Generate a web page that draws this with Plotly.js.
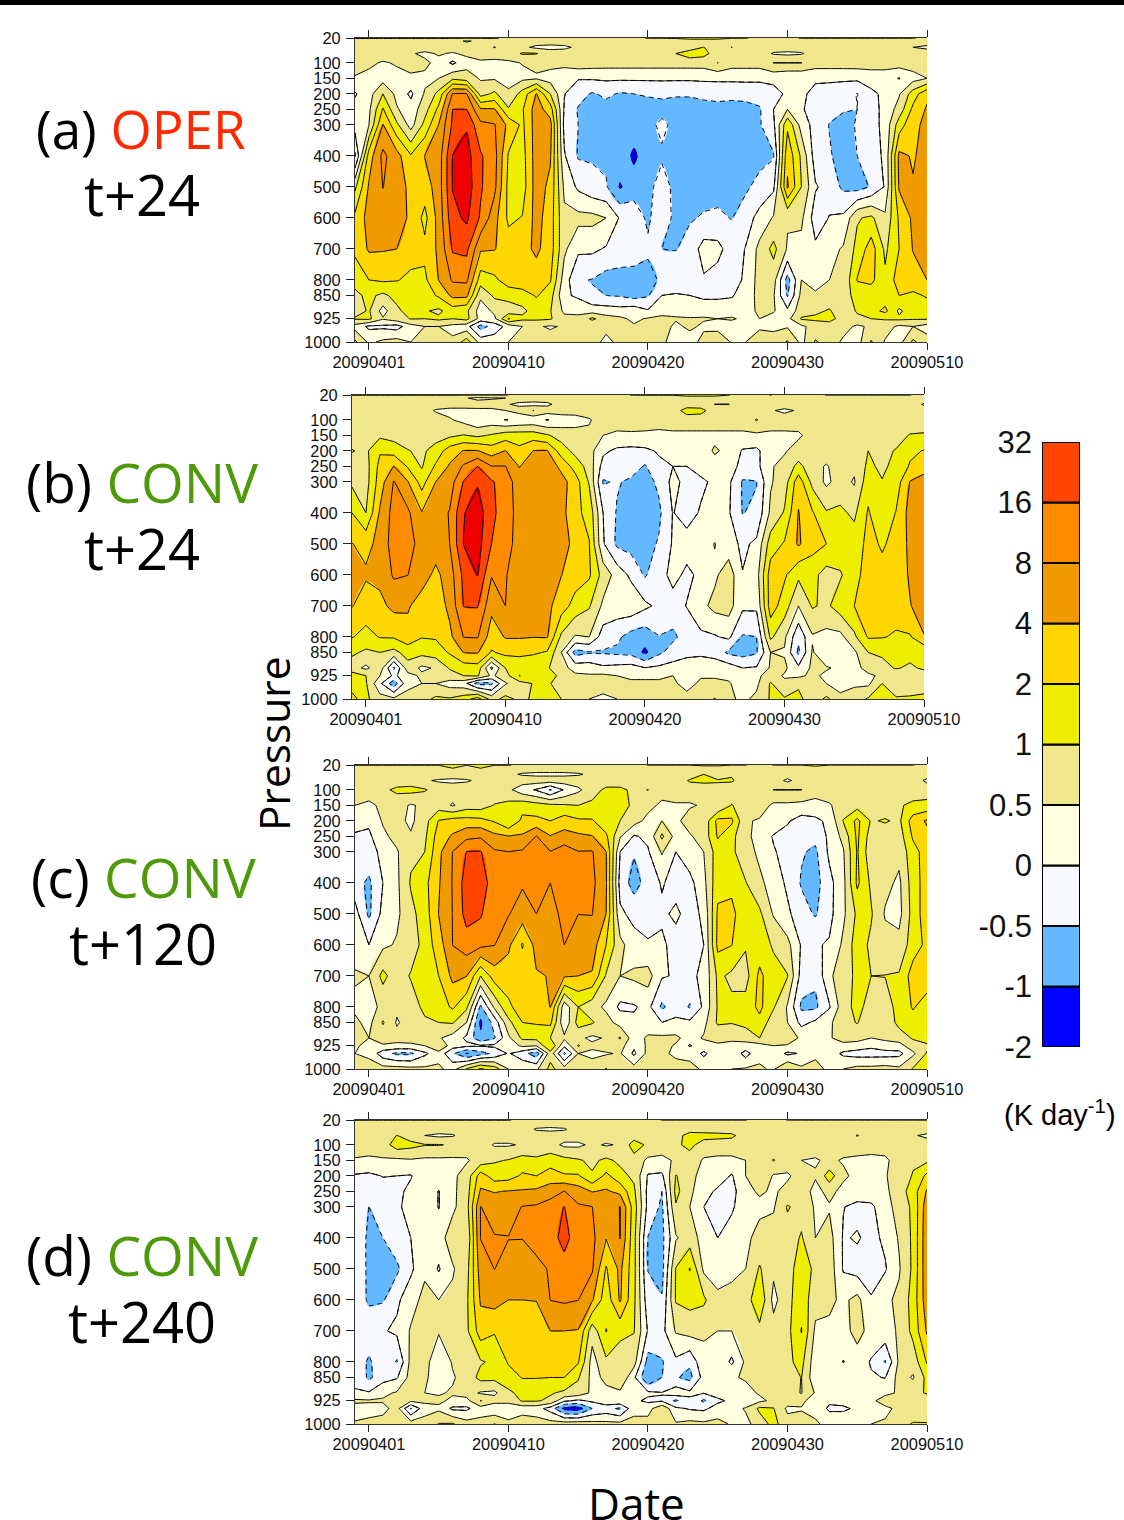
<!DOCTYPE html>
<html><head><meta charset="utf-8">
<script src="https://cdn.plot.ly/plotly-3.0.1.min.js"></script>
<style>html,body{margin:0;padding:0;background:#fff}</style></head>
<body><div id="chart" style="width:1124px;height:1520px"></div>
<script>
const days=[0,1,2,3,4,5,6,7,8,9,10,11,12,13,14,15,16,17,18,19,20,21,22,23,24,25,26,27,28,29,30,31,32,33,34,35,36,37,38,39,40,41];
const pressure=[20,30,50,70,100,150,200,250,300,400,500,600,700,800,850,900,925,950,1000];
const pressureTicks=[20,100,150,200,250,300,400,500,600,700,800,850,925,1000];
const dateTickPos=[1,11,21,31,41];
const dateTicks=['20090401','20090410','20090420','20090430','20090510'];
const levels=[-2,-1,-0.5,0,0.5,1,2,4,8,16,32,64];
const bandColors=['#0000ff','#63b8ff','#f8f8ff','#ffffe0','#f0e68c','#eeee00','#ffd700','#ee9a00','#ff8c00','#ff4500','#ee0000'];
const barLabels=['-2','-1','-0.5','0','0.5','1','2','4','8','16','32'];

// (a) OPER t+24, K/day, one row per pressure level
const operT24=[
[1.1,1.1,1.1,1.1,1.1,1.1,1.1,1.1,1.1,1.1,1.1,.9,.9,.9,.9,.9,.9,.9,.9,.9,.9,1.05,1.05,1.1,1.3,1.3,1.3,1.05,1.05,.9,.9,.9,1.05,1.05,1.05,1.05,1.05,1.05,1.05,1.05,1.05,.9],
[.75,.75,.75,.75,.75,.75,.75,.65,.45,.6,.75,.75,.75,.75,.75,.75,.75,.75,.75,.75,.75,.75,.75,.75,.75,.75,.75,.75,.75,.75,.75,.75,.75,.75,.75,.75,.75,.75,.75,.75,.75,.75],
[.75,.75,.75,.75,.75,.75,.75,.75,.75,.75,.48,.75,.6,.4,.35,.4,.6,.75,.75,.75,.75,.75,.75,.75,.75,1.02,.75,1.02,.75,.75,.75,.75,.75,.75,.75,.75,.75,.75,.75,.75,.5,.4],
[.75,.75,.75,.75,.55,.4,.55,.45,.6,.75,.75,.75,1.1,1.05,.75,.75,.75,.75,.75,.75,.75,.75,.75,1,1.5,1.3,.75,.75,.75,.75,.45,.4,.45,.75,.75,.75,.75,.75,.75,.75,.75,.75],
[.95,.6,.45,.55,.8,.6,.35,-.1,.3,.4,.35,.42,.52,.6,.65,.7,.8,.75,.72,.72,.72,.72,.72,.72,.72,.72,1.02,.72,.72,.72,1.02,1.02,1.02,.75,.75,.75,.75,.75,.75,.75,.75,.75],
[.4,.35,.3,.35,.35,.4,.5,.9,.75,.45,.45,.3,.4,.45,.3,.05,.03,.05,.08,.08,.08,.08,.08,.08,.08,.1,.1,.1,.1,.1,.15,.05,.05,.08,.08,.08,.1,.2,.2,-.02,.3,.5],
[-.05,.3,1,.35,-.1,.55,1.3,8.5,8.5,.8,1.2,.6,1.4,4.2,1,.02,-.3,-.55,-.4,-.55,-.5,-.45,-.4,-.45,-.45,-.4,-.35,-.35,-.3,-.3,-.2,.1,.1,-.15,-.2,-.3,-.52,-.1,.1,.45,1.5,3.5],
[.15,.4,2.2,.55,.2,.8,2.5,16,16,4.5,4.3,1.1,1.9,6,3,-.05,-.55,-.7,-.7,-.7,-.7,-.7,-.7,-.7,-.7,-.65,-.65,-.7,-.7,-.55,0,.5,.05,-.2,-.3,-.45,-.5,-.2,.15,.7,2.5,4.5],
[.2,.5,4.2,1.2,.3,1.3,4.1,19,30,10,8.5,3.5,1.8,6,5.5,-.15,-.5,-.7,-.7,-.7,-.7,-.7,-.35,-.7,-.7,-.7,-.7,-.7,-.7,-.55,-.1,1.8,.3,-.2,-.52,-.7,-.45,-.2,.15,1.5,3.5,5],
[-.6,3,10,5.5,2.2,4.1,6,33,45,18,11,1.9,1.6,6,4.5,.05,-.55,-.55,-.6,-.7,-1.2,-.7,-.6,-.7,-.7,-.7,-.7,-.7,-.7,-.7,-.55,3.5,.9,-.25,-.45,-.7,-.5,-.25,.1,5,3.8,5.5],
[.9,4.5,8.2,5.5,3.6,3,6,34,50,18,10,1.7,1.5,6,3.5,.4,-.1,-.35,-.45,-1.1,-.75,-.7,-.2,-.7,-.7,-.7,-.7,-.7,-.6,-.3,-.1,4.5,1,.05,-.2,-.6,-.7,-.45,.05,4.5,4.3,6],
[2.5,5.5,6,5.5,3.7,1.7,5.5,27,38,15,5.5,1.8,2.1,5.5,3,.6,.65,.65,.5,-.05,-.2,-.6,-.1,-.7,-.55,-.45,-.4,-.52,-.2,.15,.55,.55,.6,-.25,.02,.1,.95,1.2,.6,2.3,4.8,6],
[2.5,4.5,4.3,4,2.8,2.5,4.8,18,20,4.5,4.2,3,3.3,4.8,3,.6,.1,.1,-.05,-.2,-.25,-.4,-.5,-.52,-.3,.2,.15,-.25,.02,.65,1.3,.45,.35,.1,.35,.55,1.3,3,.9,2,4.2,6],
[1.3,2,2.3,2.1,1.8,1.8,4.1,9,9.5,1.5,1.8,3,3.5,3,2.2,.25,-.45,-.52,-.7,-.7,-.7,-.7,-.4,-.2,-.2,-.05,-.2,-.25,.1,.7,.7,-.7,.5,.45,.5,.6,2.1,2.5,1.2,3,3.2,4],
[.9,1.2,.9,1.3,1.6,1.5,2.3,5,5,.6,1.2,1.4,1.5,2.2,1.4,.1,-.1,-.45,-.5,-.55,-.7,-.55,0,.03,0,-.1,-.1,-.05,.25,.65,.55,-.55,.65,.52,.7,.7,1.5,1.4,1.4,2,1.8,2.2],
[.8,1.1,.3,.9,1.4,1.1,.9,1.5,1.2,.25,.6,.7,.9,1.4,1.05,.4,.4,.3,.25,.2,.3,.05,.35,.35,.2,.3,.3,.3,.3,.6,.55,.1,.8,.9,1.1,.7,1.1,1.6,2.5,.9,1.6,1.5],
[1.1,1.2,.55,.8,1.05,1,1.2,1,1.3,.3,.4,2.2,1.2,1.2,1.1,.65,.6,1.2,.7,.6,.4,.55,.6,.55,.55,.55,.5,.55,.4,.5,.3,.35,1.1,1.2,1.4,.75,.9,1,1.1,1.2,1.1,1.1],
[.3,-.1,-.1,-.2,.3,.5,.5,.35,.2,-.7,-.3,.2,.5,.55,.45,.55,.6,.6,.6,.6,.55,.7,.7,.4,.6,.4,.3,.3,.3,.4,.4,.45,.4,.7,.7,.7,.4,.6,.7,.4,.5,.3],
[1.2,.4,.6,.7,.5,.7,.7,.6,1.5,.3,.3,.5,.8,.7,.7,.6,.7,.65,.4,.6,.65,.65,.6,.25,.25,.7,.95,.45,.5,.85,.7,1.1,.35,1.1,.8,.4,.3,1.1,.45,.3,1.2,.7]
];

// (b) CONV t+24, K/day, one column per date
const convT24Cols=[
[1.05,.75,.75,.75,.75,.75,1.05,.8,.9,2,4.1,5,4.2,2.1,1.2,.7,1.5,1.3,3],
[1.05,.75,.75,.75,.75,.75,.9,.8,.8,1,3.5,4.5,3,1.7,.9,.4,1,1.1,1.2],
[1.05,.75,.75,.75,.75,.9,1.9,2.6,3,4.5,5,5,3.5,2.1,1,.8,.5,.1,.7],
[1.05,.75,.75,.75,.75,.8,1.6,4.1,8.5,11,12,9,5,2.2,.85,-.6,-.1,-.8,.6],
[1.05,.75,.75,.75,.75,.75,1.05,1.9,4.2,9.5,12,8.1,4.5,3.2,1.4,.8,.3,.35,.7],
[1.05,.75,.75,.75,.75,.75,.9,.95,1.6,4.2,6,6,3,2.1,1.3,.4,.6,.5,.8],
[1.05,.75,.75,.45,.75,.8,1.4,2.3,4,6,6,3.5,2.8,2.2,1.5,.55,.7,.5,1.2],
[1.05,.75,.75,.35,.55,.9,3,4.5,6,8.5,8,6,5,3.5,2.2,1.1,.8,.3,1.1],
[1.05,.55,.75,.35,.35,1.05,4.2,9,17,31,33,20,16.5,8.2,4.1,1.5,1,.2,1.5],
[1.05,.4,.7,.4,.1,.9,4.2,16,30,50,45,33,17,8.5,4.3,1.6,1.1,-.7,3],
[1.05,.45,.7,.4,.2,1.1,3,8.2,18,20,16,8.5,5,3,1.9,-.1,.4,-.6,.8],
[1.05,.5,.55,.5,-.02,1.5,4.1,8.2,12,12,12,8.5,8,4.3,2.5,1,.8,.45,1.3],
[.9,.75,.4,.7,.1,1.5,2.5,3.9,6,6.5,6,6,5.5,4.3,2.6,1.2,2.1,.8,.9],
[.9,.75,.35,1.02,.15,1.5,4.1,6.5,7,7,7,7,6,4.1,2.3,1.1,1.2,1.05,1.1],
[.9,.75,.4,.75,-.02,1.1,4.2,6.5,7,7,7,6.5,5,4.2,1.9,1.1,1.6,1.2,1.2],
[.9,.75,.7,.75,.2,.8,1.5,3.5,5.5,5.5,5.5,4.1,3,.9,.5,.7,.85,.7,1],
[.9,.75,.75,.75,.25,.75,.85,1.6,3,2.5,3.5,3,1.6,.45,-.7,.3,.6,.7,.9],
[.9,.75,.75,.75,.45,.6,.7,.8,.95,1.7,2.1,2.3,1.1,.5,-.55,.3,.55,.6,.5],
[.9,.75,.75,.75,.75,.5,.1,-.2,-.55,0,.05,.8,.4,-.25,-.55,.1,.6,.6,.45],
[.9,.75,.75,.75,.75,.4,-.1,-.25,-.45,-.55,-.6,.3,.3,-.4,-.6,.15,.5,.65,.5],
[1.02,.75,.75,.75,.75,.42,-.15,-.25,-.6,-.7,-.7,-.1,.35,-.7,-.65,.2,.4,.6,.6],
[1.05,.75,.75,.75,.75,.4,-.1,-.55,-.7,-.7,-.7,-.55,.1,-.8,-1.2,.02,.3,.7,.7],
[1.05,.75,.75,.75,.75,.35,.05,-.1,-.4,-.6,-.45,-.2,-.1,-.52,-.6,.1,.3,.7,.7],
[1.05,.75,.75,.75,.75,.4,.1,0,.15,.02,.05,.15,-.2,-.6,-.3,.2,.5,.6,.6],
[1.3,.75,.75,1.4,.75,.4,.2,0,-.15,-.2,.2,-.1,.02,-.3,-.1,.2,.4,.3,.7],
[1.3,.75,.75,1.3,.75,.4,.3,.2,-.1,.05,.25,.1,.35,-.1,-.1,.3,.45,.6,.7],
[1.3,.75,1.02,.75,.75,.4,.55,.35,.1,.05,.52,.4,.65,-.05,-.2,.3,.4,.7,1.05],
[1.02,.75,1.02,.75,.75,.4,.4,.3,.1,.05,.2,.8,.7,.1,-.6,.25,.3,.6,.6],
[.9,.75,.75,.75,.75,.4,-.05,-.2,-.55,-.52,-.1,.02,.1,-.55,-.7,0,.2,0,.4],
[.9,.75,.75,.75,1.05,.4,-.1,-.15,-.52,-.4,.1,.3,.1,-.5,-.55,.05,.4,.4,.6],
[1.02,.75,.75,.55,.75,.4,.3,.45,.45,.6,1.5,3,3,1.2,.5,.55,.7,1.1,1.1],
[.9,.75,.75,.4,.75,.4,.45,.65,.75,1.1,2.2,2.3,1.5,.6,.45,.6,.45,.6,1.1],
[.9,.75,.75,.55,.75,.42,.7,1.3,3.2,4.2,4.5,1.2,.5,-.4,-.6,.1,.4,.9,1.3],
[.9,.75,.75,.75,.75,.7,1,.7,.85,2.2,2.8,1.3,1.1,.45,.55,.6,.6,.8,.7],
[1.02,.75,.75,.75,.75,.75,.8,.45,.4,1.1,2,.8,.9,.35,.1,.55,.4,.5,1.2],
[1.02,.75,.75,.75,.75,.75,.8,.75,.7,1.2,1.6,.95,1.5,.35,.3,.4,.4,.2,.7],
[1.02,.75,.75,.75,.75,.75,.8,.6,.45,.9,1.5,1.6,2,.9,.4,.3,.4,.4,.8],
[1.02,.75,.75,.75,.75,.75,1,1.2,1.6,2.2,2.5,3,2.8,2.2,1,.7,.4,.4,1.1],
[1.02,.75,.75,.75,.75,.75,.9,.9,1.05,1.2,1.9,2.5,2.8,2.1,1.2,.8,.6,1,1.5],
[1.02,.75,.75,.75,.75,.85,1.05,1.3,1.5,2.1,2.5,2.8,2.7,1.9,1.4,1.1,.6,.7,1.1],
[1.02,.75,.75,.75,.75,1.05,1.8,2.2,4.2,5.5,5,4.5,3.9,1.9,1.4,.9,.5,.8,1.1],
[.9,.75,.45,.75,.75,1.1,2.1,3,6,6.5,6.5,6.5,6,3.9,1.1,1.2,.7,.9,1.1]
];

// (c) CONV t+120, K/day, one column per date
const convT120Cols=[
[1.05,.75,.75,.75,.75,.5,.3,-.1,-.15,-.3,.2,.3,.55,.4,.6,.7,.55,.5,.7],
[1.05,.75,.75,.75,.75,.4,.1,-.1,-.15,-.6,-.6,0,.5,.35,.35,.5,.4,.4,.7],
[1.05,.75,.75,.75,.9,.6,.55,.4,.1,0,.15,.4,1.3,.6,1.1,.7,.45,-.3,.7],
[1.05,.75,.75,.75,1.2,.7,.65,.65,.45,.4,.4,.55,.7,.6,.45,.65,.4,-.6,.7],
[1.05,.75,.75,.75,1.3,.45,.4,.55,.9,1.1,.85,.7,1.1,.7,.7,.7,.4,-.6,.65],
[1.05,.75,.75,.55,1.1,.6,.8,.9,1,1.7,1.5,1.4,1.4,1.3,.9,.6,.5,-.1,.6],
[1.05,.75,.75,.45,.75,.75,2.1,3,3.5,3.8,4.1,3,2,1.5,1,.55,1,.3,.6],
[1.05,1.02,.75,.4,.75,.45,2.8,4.5,8.2,8.5,8.2,8.1,5,2.3,1.1,.3,.2,-.4,.3],
[1.05,.75,.75,.45,.75,.75,2.8,7,16.5,24,22,12,4.1,1.2,.5,-.1,.1,-1.1,1.1],
[1.05,1.02,.75,.6,.75,.75,2.6,7.5,17,24,18,10,1,-.6,-1.2,-.9,.05,-.7,2.3],
[1.05,.75,.75,.75,.75,1.05,1.9,5,9,12,9,8.2,3,.6,-.3,-.55,.1,-.4,1.5],
[1.05,.75,.6,.75,.6,1.3,1,4.2,8.1,12,8.5,4.8,3,1.8,.85,.4,.2,.05,.5],
[.9,.75,.45,.75,.2,1.6,2.5,4.5,9,9,6,1.9,3.5,3,2,1.2,.6,-.3,.4],
[.9,.75,.4,.75,-.05,1.4,2.5,8.3,13,13,8,5.5,3.8,2.7,2.2,1.3,.5,-.8,.4],
[.9,.75,.4,.75,-.55,1.2,2,4.2,8.3,8,6,5,4.2,4.1,2.5,1,2,.8,1.3],
[.9,.75,.4,.75,.05,1.1,3,5.5,12,13,11,8,4.5,.2,.1,.6,.1,-.6,.7],
[.9,.75,.45,.75,.4,1,2.3,4.8,8.3,12,8.1,5.5,4,1,1.4,.6,1.1,.5,.65],
[.9,.75,.6,.75,.8,1.2,2.2,4.2,8.5,10,8.2,6,3.8,.7,1.1,.4,.6,.4,.7],
[.9,.75,.75,.75,1.2,1.1,1.3,2.4,4.1,4.5,4,2,.95,.4,.7,.55,.75,.45,1.05],
[.9,.75,.75,.75,1.2,1.2,1,.55,0,-.2,.1,.65,.5,-.1,.3,1.1,.7,.55,.7],
[.9,.75,.75,.75,.9,.95,.7,-.05,-.45,-.7,-.15,.2,.6,-.05,.1,.2,.1,-.1,.7],
[1.02,.75,.75,.75,1.02,.65,.35,.1,-.05,-.3,-.2,.05,.7,.15,.1,.6,.6,.65,.7],
[1.02,.75,.75,.7,.7,.4,.5,1.2,.55,.05,-.1,.1,.05,-.6,0,.6,.65,.6,.7],
[1.02,.75,.75,.75,.75,.45,.4,.3,0,-.2,.1,-.2,-.05,-.2,.1,.6,.45,.4,.7],
[1.02,.75,.75,1.1,.75,.45,.7,.45,.3,-.15,-.2,-.2,-.1,-.55,.1,.3,-.05,.3,.7],
[1.2,.75,1,1.2,.75,.55,.65,.7,.5,.35,.1,0,.1,.1,.35,.55,.3,-.1,.4],
[1.2,.75,.55,1.15,.75,.5,2.6,2.2,1.5,1.7,2.3,2.5,1.2,1.1,1.15,.6,.45,.3,.5],
[1.02,.75,.95,1.1,.75,1.05,2.4,1.3,1.2,1.8,2.4,2.05,.9,1.2,1.05,.65,.3,.4,.5],
[1.02,.75,.75,.75,.75,.75,.55,.6,.7,1.05,1.5,1.1,.8,1.4,1.3,.7,.3,-.2,.55],
[.9,.75,.75,.75,.75,.75,.45,.35,.4,.6,1.2,1.4,2.5,2.5,1.7,1,.3,.4,.55],
[1.02,.75,.75,.75,1.02,.4,.4,-.05,.05,.3,.45,.95,1.3,1.1,.7,.6,.5,.35,.45],
[1.02,.75,.75,.4,1.02,.4,.05,-.15,-.2,-.1,.1,.65,1.05,.45,.5,.8,.45,-.1,1.02],
[1.02,.75,.75,.75,1.02,.35,-.2,-.25,-.45,-.55,-.3,-.05,-.2,-.6,-.15,.4,.2,.05,.6],
[1.3,.75,.75,.75,.75,.3,-.1,-.35,-.6,-.7,-.55,-.05,-.4,-.6,.1,.35,.4,.4,.65],
[1.02,.75,.75,.75,.75,.45,.1,.1,.1,-.15,-.15,.05,.4,-.05,.4,.45,.25,.3,.4],
[1.02,.75,.75,.75,.75,.75,1.05,.65,.45,.35,.4,.6,.8,.8,.85,.7,.35,-.1,.5],
[1.02,.75,.75,.75,.75,.8,2.5,2.4,2.2,2.4,1.2,1.5,1.2,1.3,1.05,.7,.25,-.2,.65],
[1.02,.75,.75,.75,.75,.75,.95,.75,.65,.9,1.1,.9,1,.8,.7,.5,.1,-.2,.65],
[1.02,.75,.75,.75,.75,.7,1.1,.7,.7,.65,.45,.7,1.02,.8,.65,.6,.3,-.2,.7],
[1.02,.75,.75,.75,.75,.95,.9,.75,.65,.4,.35,.65,1.1,1.3,1.3,.75,.3,-.15,.6],
[1.02,.75,.75,.75,.75,1.2,3,2.3,1.6,1.5,1.4,1.5,3,2.2,1.6,1.1,.8,.4,1.1],
[.9,.75,.75,.4,.75,1.3,4.5,3.5,3,3,3.2,2.5,3.2,1.5,1.1,1.5,.9,1.1,1.5]
];

// (d) CONV t+240, K/day, one column per date
const convT240Cols=[
[1.05,.75,.75,.95,.75,.45,-.05,-.1,-.1,-.15,-.15,-.1,-.1,-.1,-.05,.02,.6,.3,.55],
[1.05,.75,.75,.75,.75,.4,-.1,-.2,-.5,-.6,-.6,-.6,-.1,-.6,-.6,.05,.55,.35,.6],
[1.05,.75,.75,.75,.75,.45,.02,-.2,-.2,-.5,-.7,-.55,-.05,-.1,-.2,.4,.55,.35,.7],
[1.05,.75,.75,1.02,1.5,.4,0,-.1,-.05,-.2,-.6,-.1,.1,-.55,-.05,.55,.7,.7,.6],
[1.05,.75,.75,.75,1.3,.45,-.03,.1,.1,0,-.1,.3,.55,.65,.7,.8,.6,-.55,.75],
[1.05,.75,.75,.5,1.05,.4,.3,.35,.35,.4,.4,.65,.75,.7,.6,.5,.6,.3,.7],
[1.05,.75,.75,.4,1.05,.4,.3,-.02,-.02,.3,-.05,.5,.55,.1,.2,.45,.6,.4,1.05],
[1.05,.75,.75,.45,.95,.4,.4,.4,.4,.75,.45,.6,.8,.55,.45,.55,.4,-.1,1.1],
[1.05,.75,.75,.75,.75,.45,.7,.75,.8,.55,.8,.9,.9,.8,.7,.7,.35,-.1,.7],
[1.05,.75,.75,.75,.75,.7,3,4.5,8.2,8.2,6,4.5,3,.95,1.3,.45,1.05,.3,.65],
[1.05,.75,.75,.75,.45,.95,1.5,3.9,6,8.5,8.1,5.5,2.2,1.2,1.3,.4,.7,.1,1.05],
[1.05,.75,.75,.75,.45,1.05,1.6,4.2,6.5,8.2,6.5,4,2.5,2.2,1.6,.9,.7,.1,.65],
[.9,.75,.75,.75,.55,1.4,2.3,4.4,8.3,8.2,6,4,2.7,2.7,2.1,1.3,1.1,.2,.9],
[.9,.75,.45,.75,.65,1.2,2,4.8,9,12,6.5,4.1,3,3,2.1,1.2,1.1,.2,.75],
[.9,.75,.4,.75,.7,1.5,3,6,12,13,9,8.1,4,2.2,2,1.1,.9,-.2,.7],
[.9,.75,.45,.75,.4,1.3,2.2,8.2,16.5,21,13,9,4,3,2,.9,.1,-1.3,.75],
[.9,.75,.75,.75,.4,1.1,2.2,6,9,12,11,8.1,3.9,2.2,1.1,.8,-.1,-1.5,.8],
[.9,.75,.75,.75,.6,.9,1.1,3.9,8.1,10,9,4.5,.7,.3,.35,.4,.1,-.5,.7],
[.9,.75,.75,.75,.45,1.2,2.5,4.5,5,4.2,1.9,1.4,2.1,.9,.6,.4,.35,-.3,.65],
[.9,.75,.75,.7,.55,.9,1.3,3.5,8.3,8.2,5,4.5,1.3,.7,.95,.4,.45,-.6,.65],
[.9,.75,.75,.75,1.5,.8,.9,1.2,1.5,1.3,1.3,1.2,1.05,.7,.1,.3,.1,.4,.6],
[.9,.75,.75,.75,.9,.4,-.05,-.15,-.15,-.52,-.52,-.3,-.05,-.7,-1,.1,-.1,.3,.7],
[1.02,.75,.75,.75,.7,.4,-.1,-.5,-.6,-.65,-.7,-.45,-.15,-.55,-.5,.02,-.05,.9,.85],
[1.02,.75,.75,.75,.9,.55,1.05,1.3,.95,.45,1.05,1.1,.55,-.1,-.45,.3,-.6,.1,.55],
[1.02,.75,.75,1.5,1.3,.75,.75,.6,.5,.75,2.1,1.3,.7,-.4,-.65,.1,-.1,-.05,.65],
[1.02,.75,.75,1.4,.75,.45,.2,.2,0,.3,.4,1.2,.55,.4,.2,.02,-.6,-.1,.6],
[1.02,.75,.75,1.3,.75,.4,.3,-.1,-.2,0,.4,.55,.5,.4,.35,.2,-.1,.2,.65],
[1.02,.75,.75,1.2,.75,.4,-.05,-.2,-.1,.3,.35,.7,.5,-.1,.45,.4,.1,.3,.45],
[1.02,.75,.75,.75,.75,.5,.5,.4,.4,.4,.5,.75,.8,.6,.55,.35,.1,.55,.35],
[.9,.75,.75,.75,.75,.7,.95,.55,.4,.65,1.1,1.8,.85,.75,.9,.55,.4,1.2,.75],
[.9,.75,.75,.75,.75,1.05,.45,.45,.45,.7,.6,.35,.7,.75,.75,.65,.6,1.05,1.3],
[1.02,.75,.75,.75,.75,.7,.45,.6,1.1,.75,.8,.85,.85,.9,.8,.8,.75,.4,.7],
[1.02,.75,.75,.75,.75,.5,.65,.75,.8,1.1,1.5,1.6,2.1,1.3,1.02,1.05,.7,.45,.75],
[1.02,.75,.75,.75,.75,.45,.55,.35,.45,.5,.9,.7,.4,.2,.15,.45,.05,.4,.55],
[1.02,.75,.75,.75,.75,.6,1.5,.65,.45,.7,.8,.6,.4,.35,.3,.4,.1,-.1,.4],
[1.02,.75,.75,.75,.75,.45,.6,.35,.02,-.05,-.05,.4,.35,-.02,.3,.4,.2,-.1,.4],
[1.02,.75,.75,1.05,.75,.4,.35,.3,-.15,.05,-.2,.65,.65,.3,.35,.4,.25,.1,.45],
[1.02,.75,.75,.75,.75,.35,.25,.3,-.1,-.15,-.25,.05,.35,-.05,.05,.4,.4,.4,.5],
[1.02,.75,.75,.75,.75,.4,.45,.4,.3,.1,-.05,.4,.35,-.55,-.02,.4,.7,.4,.55],
[1.02,.75,.75,.75,.75,.75,.8,.75,.7,.55,.45,.6,.55,.6,.7,.55,.85,.6,.8],
[1.02,.75,.75,.55,.75,.95,1.05,1.5,1.2,1.2,1.2,1.4,1.3,.7,.45,.85,.8,.6,1.1],
[1.02,.75,.75,.4,.75,.9,2.5,4.5,6.5,7,7,6.5,4.5,2.2,1.3,1.1,.6,.5,1.1]
];

const transpose=cols=>cols[0].map((_,r)=>cols.map(c=>c[r]));
// Non-uniform contour levels: map K/day onto the level index so each band has unit width.
function toIndex(v){
  if(v<=levels[0])return 0.01;
  for(let i=0;i<levels.length-1;i++){
    if(v<=levels[i+1])return i+(v-levels[i])/(levels[i+1]-levels[i]);
  }
  return levels.length-1.01;
}
const W=1124,H=1520;
const panels=[
 {z:operT24,l:355,r:927,t:38,b:342},
 {z:transpose(convT24Cols),l:352,r:924,t:395,b:699},
 {z:transpose(convT120Cols),l:355,r:927,t:765,b:1069},
 {z:transpose(convT240Cols),l:355,r:927,t:1120,b:1424}
];
const scale=[];
const nBands=12;
for(let i=0;i<nBands;i++){
  const c=bandColors[Math.max(0,Math.min(i-1,bandColors.length-1))];
  scale.push([i/nBands,c],[(i+1)/nBands,c]);
}
const tickFont={family:'"Liberation Sans",Arial,sans-serif',size:16.4,color:'#111'};
const data=[],layout={width:W,height:H,margin:{l:0,r:0,t:0,b:0},paper_bgcolor:'#fff',plot_bgcolor:'#fff',showlegend:false,barmode:'overlay',
 shapes:[{type:'rect',xref:'paper',yref:'paper',x0:0,x1:1,y0:1-5/H,y1:1,fillcolor:'#000',line:{width:0}}],annotations:[]};
panels.forEach((p,k)=>{
  const n=k+1,xa=k?'x'+n:'x',ya=k?'y'+n:'y';
  const z=p.z.map(row=>row.map(toIndex));
  const base={type:'contour',x:days,y:pressure,z:z,xaxis:xa,yaxis:ya,autocontour:false,showscale:false,hoverinfo:'skip'};
  data.push(Object.assign({},base,{colorscale:scale,contours:{start:0,end:11,size:1,coloring:'fill',showlines:false},line:{width:0}}));
  data.push(Object.assign({},base,{contours:{start:3,end:10,size:1,coloring:'none'},line:{color:'#000',width:1,smoothing:0}}));
  data.push(Object.assign({},base,{contours:{start:0,end:3,size:1,coloring:'none'},line:{color:'#000',width:1,dash:'5px,4px',smoothing:0}}));
  layout[k?'xaxis'+n:'xaxis']={domain:[p.l/W,p.r/W],anchor:ya,range:[0,41],tickmode:'array',tickvals:dateTickPos,ticktext:dateTicks,ticks:'outside',ticklen:7,tickwidth:1,tickcolor:'#222',showline:true,linecolor:'#333',linewidth:1,mirror:'ticks',showgrid:false,zeroline:false,tickfont:tickFont,ticklabelstandoff:-2};
  layout[k?'yaxis'+n:'yaxis']={domain:[1-p.b/H,1-p.t/H],anchor:xa,range:[1000,20],tickmode:'array',tickvals:pressureTicks,ticktext:pressureTicks.map(String),ticks:'outside',ticklen:8,tickwidth:1,tickcolor:'#222',showline:true,linecolor:'#333',linewidth:1,showgrid:false,zeroline:false,tickfont:tickFont,ticklabelstandoff:2};
});
// level bar
data.push({type:'bar',x:barLabels.map(()=>0),y:barLabels.map(()=>1),base:barLabels.map((_,i)=>i),width:1,orientation:'v',xaxis:'x5',yaxis:'y5',marker:{color:bandColors.slice(0,10),line:{color:'#000',width:2}},hoverinfo:'skip'});
layout.xaxis5={domain:[1042/W,1080/W],anchor:'y5',range:[-.5,.5],visible:false,fixedrange:true};
layout.yaxis5={domain:[1-1047/H,1-442/H],anchor:'x5',range:[0,10],tickmode:'array',tickvals:barLabels.map((_,i)=>i),ticktext:barLabels,ticks:'',showgrid:false,zeroline:false,showline:false,tickfont:{family:'"Liberation Sans",Arial,sans-serif',size:31,color:'#111'},ticklabelstandoff:9};
const labelFont='"Open Sans","Noto Sans",sans-serif';
function note(text,cx,cy,size,angle,fam){
  layout.annotations.push({text:text,xref:'paper',yref:'paper',x:cx/W,y:1-cy/H,xanchor:'center',yanchor:'middle',showarrow:false,textangle:angle||0,font:{family:fam||labelFont,size:size,color:'#000'}});
}
const GREEN='#4f9a0a',RED='#ff2a00';
note('(a) <span style="color:'+RED+'">OPER</span>',141,128,53);
note('t+24',142,194,56);
note('(b) <span style="color:'+GREEN+'">CONV</span>',142,481,55);
note('t+24',142,548,56);
note('(c) <span style="color:'+GREEN+'">CONV</span>',143,876,55);
note('t+120',143,943,56);
note('(d) <span style="color:'+GREEN+'">CONV</span>',142,1254,55);
note('t+240',142,1321,56);
note('Pressure',273,744,42.5,-90);
note('Date',636,1503,44);
note('(K day<sup>-1</sup>)',1060,1113,29,0,'"Liberation Sans",Arial,sans-serif');
Plotly.newPlot('chart',data,layout,{displayModeBar:false,staticPlot:true});
</script></body></html>
